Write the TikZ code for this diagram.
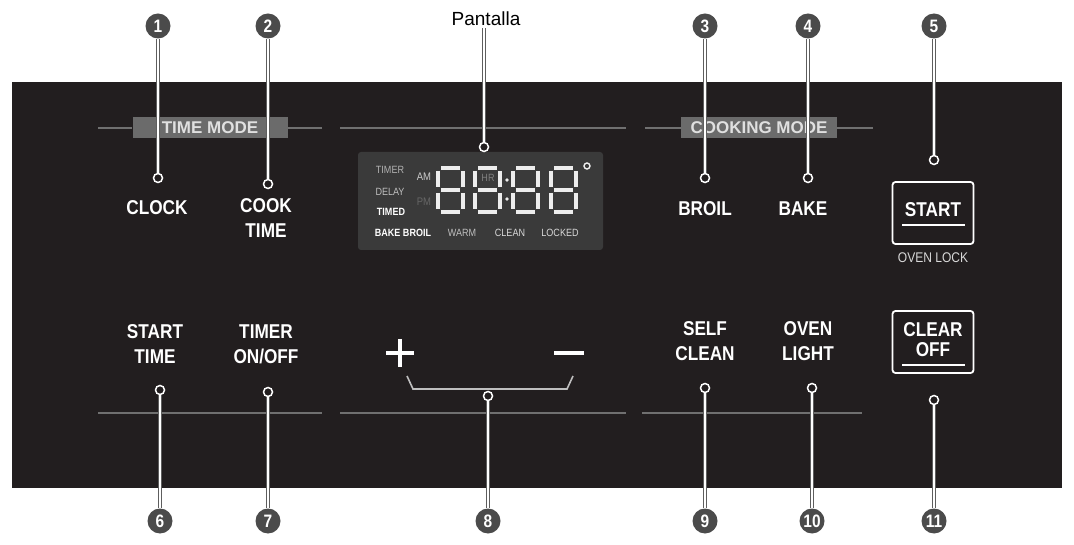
\documentclass[tikz,border=0pt]{standalone}
\usepackage{fontspec}
\setmainfont{Liberation Sans}
\newfontfamily\panelfont[FakeStretch=0.86]{Liberation Sans}
\definecolor{panel}{HTML}{221E1F}
\definecolor{callgray}{HTML}{4B4B4B}
\definecolor{leadgray}{HTML}{5E5E5E}
\definecolor{rulegray}{HTML}{707070}
\definecolor{modegray}{HTML}{6B6B6B}
\definecolor{lcdgray}{HTML}{3A3A3A}
\definecolor{segwhite}{HTML}{EDEDED}

\newcommand{\cn}{\node[circle, fill=callgray, text=white, minimum size=25pt, inner sep=0pt, font=\panelfont\bfseries\fontsize{18}{18}\selectfont]}
\newcommand{\mk}{\node[circle, draw=white, line width=1.5pt, fill=panel, minimum size=9pt, inner sep=0pt]}
\newcommand{\bt}{\node[text=white, align=center, inner sep=0pt, font=\panelfont\bfseries\fontsize{20}{25}\selectfont]}
\newcommand{\lcd}{\node[inner sep=0pt, font=\panelfont\fontsize{10.5}{10.5}\selectfont]}
\newcommand{\segdig}[2]{%
  \draw[seg] (#1+5,#2+2) -- (#1+24,#2+2)
             (#1+5,#2+24) -- (#1+24,#2+24)
             (#1+5,#2+46) -- (#1+24,#2+46)
             (#1+2,#2+5) -- (#1+2,#2+21)
             (#1+2,#2+27) -- (#1+2,#2+43)
             (#1+27,#2+5) -- (#1+27,#2+21)
             (#1+27,#2+27) -- (#1+27,#2+43);}

\tikzset{
  leader/.style={draw=leadgray, double=white, double distance=1.8pt, line width=1pt},
  divider/.style={draw=rulegray, line width=1.2pt},
  modebox/.style={fill=modegray, text=white!88!black, minimum height=21pt, inner sep=0pt, font=\bfseries\fontsize{17}{17}\selectfont},
  keybox/.style={draw=white, line width=1.8pt, rounded corners=3pt, minimum width=81pt, minimum height=62pt, inner sep=0pt},
  seg/.style={draw=segwhite, line width=4.5pt}
}

\begin{document}
\begin{tikzpicture}[x=1pt, y=-1pt]
  \useasboundingbox (0,0) rectangle (1074,545);
  \fill[panel] (12,82) rectangle (1062,488);

  \node[modebox, minimum width=155pt] (tm) at (210,128) {TIME MODE};
  \node[modebox, minimum width=156pt] (cm) at (759,128) {COOKING MODE};

  \draw[divider]
    (98,128) -- (tm.west)
    (tm.east) -- (322,128)
    (340,128) -- (626,128)
    (645,128) -- (cm.west)
    (cm.east) -- (873,128)
    (98,413) -- (322,413)
    (340,413) -- (626,413)
    (642,413) -- (862,413)
    ;

  \fill[lcdgray, rounded corners=3pt] (358,152) rectangle (603,250);
  \segdig{436}{166}
  \segdig{473}{166}
  \segdig{511}{166}
  \segdig{549}{166}
  \fill[segwhite] (507,180) circle (1.8pt) (507,199) circle (1.8pt);
  \draw[segwhite, line width=1.4pt] (587,166) circle (3pt);
  \lcd[text=gray] (hr) at (488,178) {HR};
  \lcd[text=white!70!black] (timer) at (390,170) {TIMER};
  \lcd[text=white!75!black] (delay) at (390,192) {DELAY};
  \lcd[text=white, font=\panelfont\bfseries\fontsize{10.5}{10.5}\selectfont] (timed) at (391,212) {TIMED};
  \lcd[text=white, font=\panelfont\bfseries\fontsize{10.5}{10.5}\selectfont] (bkbr) at (403,233) {BAKE BROIL};
  \lcd[text=white!75!black] (warm) at (462,233) {WARM};
  \lcd[text=white!85!black] (clean) at (510,233) {CLEAN};
  \lcd[text=white!85!black] (locked) at (560,233) {LOCKED};
  \lcd[text=white!80!black, font=\panelfont\fontsize{11}{11}\selectfont] (am) at (424,177) {AM};
  \lcd[text=white!40!black, font=\panelfont\fontsize{11}{11}\selectfont] (pm) at (424,202) {PM};

  \bt (clock) at (157,208) {CLOCK};
  \bt (cook) at (266,218) {COOK\\TIME};
  \bt (broil) at (705,209) {BROIL};
  \bt (bake) at (803,209) {BAKE};
  \bt (sttime) at (155,344) {START\\TIME};
  \bt (timer) at (266,344) {TIMER\\ON/OFF};
  \bt (self) at (705,341) {SELF\\CLEAN};
  \bt (light) at (808,341) {OVEN\\LIGHT};

  \node[keybox] (startkey) at (933,213) {};
  \bt (start) at (933,210) {START};
  \draw[white, line width=1.6pt] (902,225) -- (965,225);
  \node[text=white!85!black, inner sep=0pt, font=\panelfont\fontsize{14}{14}\selectfont] (lock) at (933,258) {OVEN LOCK};
  \node[keybox] (clearkey) at (933,342) {};
  \bt (clear) at (933,340) {CLEAR\\[-5pt]OFF};
  \draw[white, line width=1.6pt] (902,365) -- (965,365);

  \draw[white, line width=3.5pt] (386,353) -- (414,353) (400,339) -- (400,367);
  \draw[white, line width=3.5pt] (554,353) -- (584,353);
  \draw[white!75!black, line width=1.6pt] (407,376) -- (413,389) -- (567,389) -- (573,376);

  \node[font=\fontsize{19}{19}\selectfont, inner sep=2pt] (pl) at (486,19) {Pantalla};

  \cn (c1) at (158,26) {1};
  \cn (c2) at (268,26) {2};
  \cn (c3) at (705,26) {3};
  \cn (c4) at (808,26) {4};
  \cn (c5) at (934,26) {5};
  \cn (c6) at (160,521) {6};
  \cn (c7) at (268,521) {7};
  \cn (c8) at (488,521) {8};
  \cn (c9) at (705,521) {9};
  \cn (c10) at (812,521) {10};
  \cn (c11) at (934,521) {11};

  \mk (m1) at (158,178) {};
  \mk (m2) at (268,184) {};
  \mk (mp) at (484,147) {};
  \mk (m3) at (705,178) {};
  \mk (m4) at (808,178) {};
  \mk (m5) at (934,160) {};
  \mk (m6) at (160,390) {};
  \mk (m7) at (268,392) {};
  \mk (m8) at (488,396) {};
  \mk (m9) at (705,388) {};
  \mk (m10) at (812,388) {};
  \mk (m11) at (934,400) {};

  \draw[leader]
    (c1) -- (m1)
    (c2) -- (m2)
    (pl.south -| mp) -- (mp)
    (c3) -- (m3)
    (c4) -- (m4)
    (c5) -- (m5)
    (c6) -- (m6)
    (c7) -- (m7)
    (c8) -- (m8)
    (c9) -- (m9)
    (c10) -- (m10)
    (c11) -- (m11)
    ;
\end{tikzpicture}
\end{document}
